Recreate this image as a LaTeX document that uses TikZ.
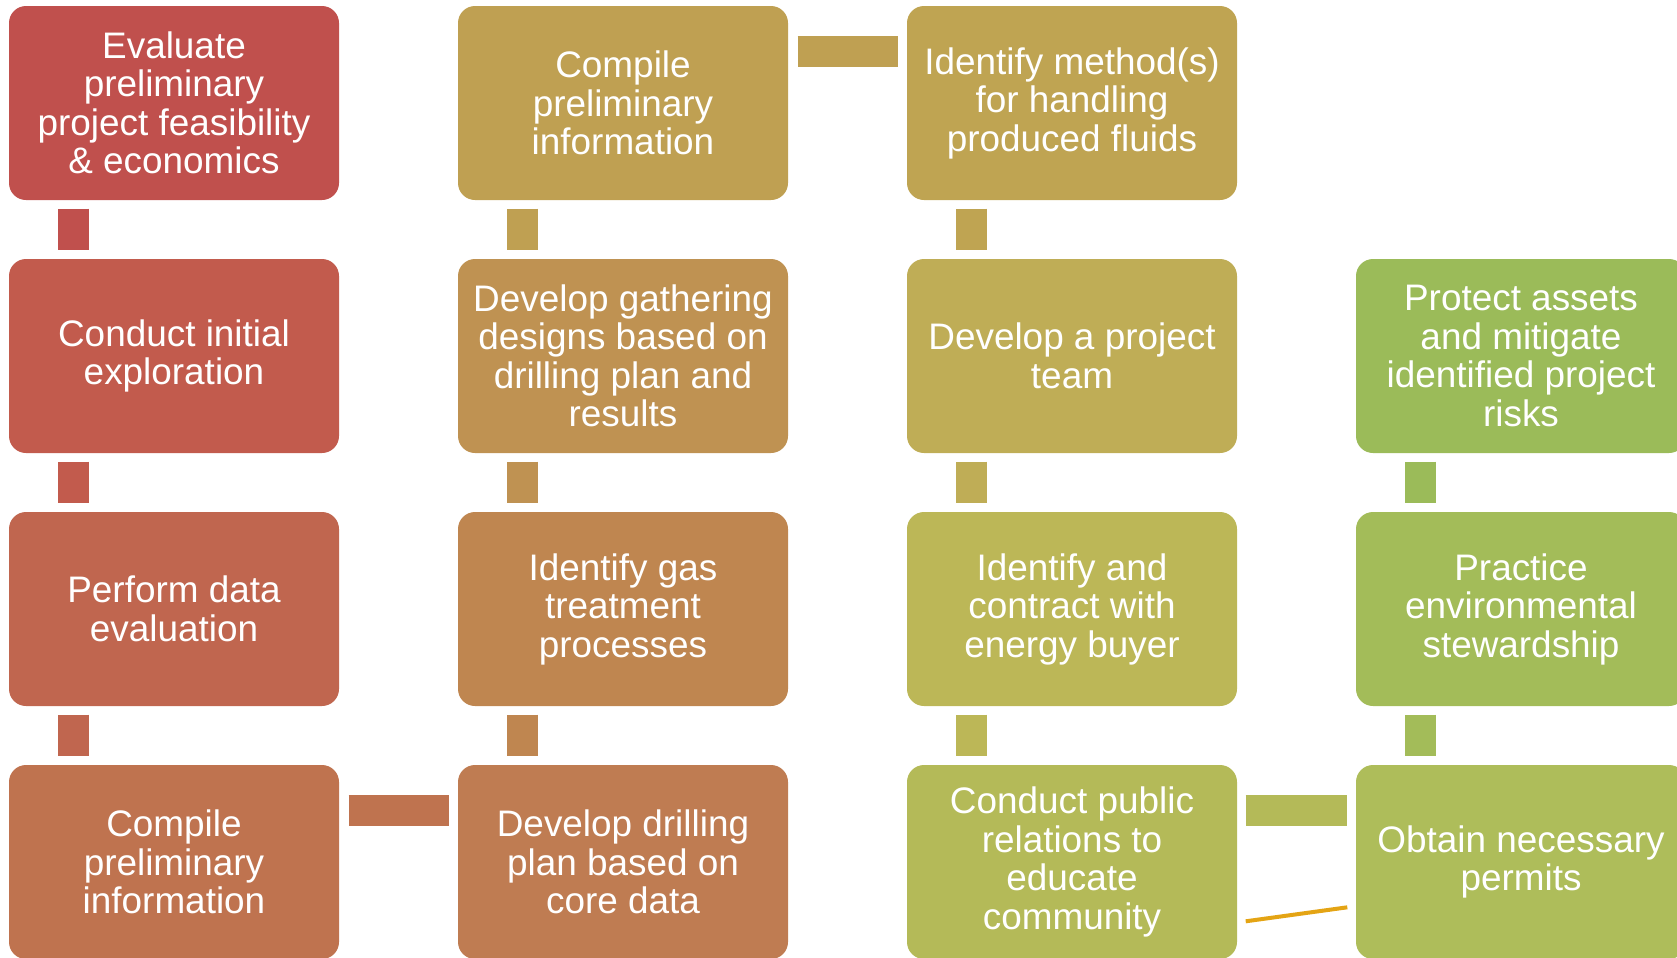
\documentclass[tikz,border=0pt]{standalone}
\usepackage{fontspec}
\setmainfont{Liberation Sans}

\definecolor{c11}{HTML}{C0504D}
\definecolor{c12}{HTML}{C25B4D}
\definecolor{c13}{HTML}{C0664F}
\definecolor{c14}{HTML}{BF734F}
\definecolor{c21}{HTML}{BFA052}
\definecolor{c22}{HTML}{BF9252}
\definecolor{c23}{HTML}{BF8650}
\definecolor{c24}{HTML}{BF7C52}
\definecolor{c31}{HTML}{BFA452}
\definecolor{c32}{HTML}{BFAD56}
\definecolor{c33}{HTML}{BCB757}
\definecolor{c34}{HTML}{B4BA58}
\definecolor{c42}{HTML}{9BBB59}
\definecolor{c43}{HTML}{A3BC59}
\definecolor{c44}{HTML}{AEBD5A}
\definecolor{gold}{RGB}{228,164,20}

\begin{document}
\begin{tikzpicture}[
    stepbox/.style={fill=#1, rounded corners=0.17cm, minimum width=3.3cm,
      minimum height=1.94cm, inner sep=0pt, text=white, align=center,
      font=\fontsize{10.5}{10.95}\selectfont},
    bar/.style={draw=#1, line width=0.31cm}
  ]
    \useasboundingbox (0,0) rectangle (16.77,9.57);

    % First column
    \node[stepbox=c11] (eval) at (1.74,8.54) {Evaluate\\preliminary\\project feasibility\\\& economics};
    \node[stepbox=c12] (explore) at (1.74,6.01) {Conduct initial\\exploration};
    \node[stepbox=c13] (dataeval) at (1.74,3.48) {Perform data\\evaluation};
    \node[stepbox=c14] (compileA) at (1.74,0.95) {Compile\\preliminary\\information};

    % Second column
    \node[stepbox=c21] (compileB) at (6.23,8.54) {Compile\\preliminary\\information};
    \node[stepbox=c22] (gather) at (6.23,6.01) {Develop gathering\\designs based on\\drilling plan and\\results};
    \node[stepbox=c23] (treat) at (6.23,3.48) {Identify gas\\treatment\\processes};
    \node[stepbox=c24] (drill) at (6.23,0.95) {Develop drilling\\plan based on\\core data};

    % Third column
    \node[stepbox=c31] (fluids) at (10.72,8.54) {Identify method(s)\\for handling\\produced fluids};
    \node[stepbox=c32] (team) at (10.72,6.01) {Develop a project\\team};
    \node[stepbox=c33] (buyer) at (10.72,3.48) {Identify and\\contract with\\energy buyer};
    \node[stepbox=c34] (public) at (10.72,0.95) {Conduct public\\relations to\\educate\\community};

    % Fourth column
    \node[stepbox=c42] (protect) at (15.21,6.01) {Protect assets\\and mitigate\\identified project\\risks};
    \node[stepbox=c43] (steward) at (15.21,3.48) {Practice\\environmental\\stewardship};
    \node[stepbox=c44] (permits) at (15.21,0.95) {Obtain necessary\\permits};

    % Vertical bars
    % -- first column
    \draw[bar=c11] ([xshift=0.655cm,yshift=-0.08cm]eval.south west) -- ([xshift=0.655cm,yshift=0.08cm]explore.north west);
    \draw[bar=c12] ([xshift=0.655cm,yshift=-0.08cm]explore.south west) -- ([xshift=0.655cm,yshift=0.08cm]dataeval.north west);
    \draw[bar=c13] ([xshift=0.655cm,yshift=-0.08cm]dataeval.south west) -- ([xshift=0.655cm,yshift=0.08cm]compileA.north west);
    % -- second column
    \draw[bar=c21] ([xshift=0.655cm,yshift=-0.08cm]compileB.south west) -- ([xshift=0.655cm,yshift=0.08cm]gather.north west);
    \draw[bar=c22] ([xshift=0.655cm,yshift=-0.08cm]gather.south west) -- ([xshift=0.655cm,yshift=0.08cm]treat.north west);
    \draw[bar=c23] ([xshift=0.655cm,yshift=-0.08cm]treat.south west) -- ([xshift=0.655cm,yshift=0.08cm]drill.north west);
    % -- third column
    \draw[bar=c31] ([xshift=0.655cm,yshift=-0.08cm]fluids.south west) -- ([xshift=0.655cm,yshift=0.08cm]team.north west);
    \draw[bar=c32] ([xshift=0.655cm,yshift=-0.08cm]team.south west) -- ([xshift=0.655cm,yshift=0.08cm]buyer.north west);
    \draw[bar=c33] ([xshift=0.655cm,yshift=-0.08cm]buyer.south west) -- ([xshift=0.655cm,yshift=0.08cm]public.north west);
    % -- fourth column
    \draw[bar=c42] ([xshift=0.655cm,yshift=-0.08cm]protect.south west) -- ([xshift=0.655cm,yshift=0.08cm]steward.north west);
    \draw[bar=c43] ([xshift=0.655cm,yshift=-0.08cm]steward.south west) -- ([xshift=0.655cm,yshift=0.08cm]permits.north west);

    % Horizontal bars
    \draw[bar=c14] ([xshift=0.09cm,yshift=-0.46cm]compileA.north east) -- ([xshift=-0.08cm,yshift=-0.46cm]drill.north west);
    \draw[bar=c21] ([xshift=0.09cm,yshift=-0.46cm]compileB.north east) -- ([xshift=-0.08cm,yshift=-0.46cm]fluids.north west);
    \draw[bar=c34] ([xshift=0.08cm,yshift=-0.46cm]public.north east) -- ([xshift=-0.08cm,yshift=-0.46cm]permits.north west);

    % Stray gold line
    \draw[gold, line width=0.04cm] ([xshift=0.08cm,yshift=-1.57cm]public.north east) -- ([xshift=-0.08cm,yshift=-1.43cm]permits.north west);
\end{tikzpicture}
\end{document}
